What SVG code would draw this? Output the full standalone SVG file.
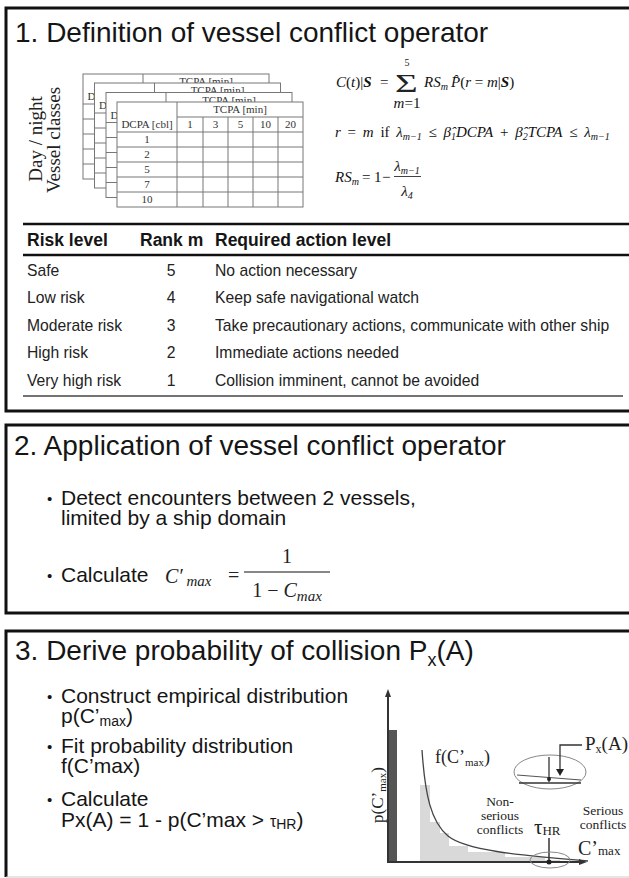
<svg xmlns="http://www.w3.org/2000/svg" width="629" height="878" viewBox="0 0 629 878">
<style>
.frame{fill:none;stroke:#111;stroke-width:3}
.title{font-family:"Liberation Sans",Arial,sans-serif;font-size:28px;fill:#151515}
.body{font-family:"Liberation Sans",Arial,sans-serif;font-size:21px;fill:#151515}
.bul{font-family:"Liberation Sans",Arial,sans-serif;font-size:15px;fill:#151515}
.th{font-family:"Liberation Sans",Arial,sans-serif;font-size:17.5px;font-weight:bold;fill:#151515}
.td{font-family:"Liberation Sans",Arial,sans-serif;font-size:15.7px;fill:#222}
.math{font-family:"Liberation Serif","Times New Roman",serif;font-style:italic;font-size:15px;fill:#111}
.up{font-style:normal}
.tt{font-family:"Liberation Serif","Times New Roman",serif;font-size:11px;fill:#333;text-anchor:middle}
.tl{stroke:#777;stroke-width:1;fill:none}
.serif{font-family:"Liberation Serif","Times New Roman",serif;fill:#222}
.rule{stroke:#111;stroke-width:2.5}
</style>
<defs>
<g id="vt">
<rect x="0" y="0" width="186" height="105" fill="#fff" stroke="#777"/>
<path class="tl" d="M60 0V105M86 15V105M111 15V105M136 15V105M161 15V105M60 15H186M0 30H186M0 45H186M0 60H186M0 75H186M0 90H186"/>
<text class="tt" x="123" y="11">TCPA [min]</text>
<text class="tt" x="30" y="26">DCPA [cbl]</text>
<text class="tt" x="73" y="26">1</text>
<text class="tt" x="98.5" y="26">3</text>
<text class="tt" x="123.5" y="26">5</text>
<text class="tt" x="148.5" y="26">10</text>
<text class="tt" x="173.5" y="26">20</text>
<text class="tt" x="30" y="41">1</text>
<text class="tt" x="30" y="56">2</text>
<text class="tt" x="30" y="71">5</text>
<text class="tt" x="30" y="86">7</text>
<text class="tt" x="30" y="101">10</text>
</g>
</defs>

<!-- Panel 1 -->
<g id="panel1">
<path class="frame" d="M640 8H6V411H640"/>
<text class="title" x="15" y="42">1. Definition of vessel conflict operator</text>
<g id="tables">
<use href="#vt" transform="translate(83,74)"/>
<use href="#vt" transform="translate(94.5,83)"/>
<use href="#vt" transform="translate(106,92.5)"/>
<use href="#vt" transform="translate(117,102)"/>
</g>
<text class="serif" font-size="19" text-anchor="middle" transform="translate(42,139) rotate(-90)">Day / night</text>
<text class="serif" font-size="19" text-anchor="middle" transform="translate(60,140) rotate(-90)">Vessel classes</text>
<g id="formulas">
<text class="math" x="336" y="87">C<tspan class="up">(</tspan>t<tspan class="up">)|</tspan><tspan font-weight="bold">S</tspan></text>
<text class="serif" font-size="15" x="380" y="87">=</text>
<text class="serif" font-size="26" transform="translate(395,92) scale(1.5,1)">Σ</text>
<text class="serif" font-size="10" text-anchor="middle" x="407" y="66">5</text>
<text class="math" font-size="10" text-anchor="middle" x="407" y="108">m<tspan class="up">=1</tspan></text>
<text class="math" x="424" y="87">RS<tspan font-size="10" dy="3">m</tspan></text>
<text class="math" x="451" y="87">P&#x302;<tspan class="up">(</tspan>r<tspan class="up"> = </tspan>m<tspan class="up">|</tspan><tspan font-weight="bold">S</tspan><tspan class="up">)</tspan></text>
<text class="math" x="335" y="137" word-spacing="3">r<tspan class="up"> = </tspan>m<tspan class="up">  if  </tspan>λ<tspan font-size="10" dy="3">m−1</tspan><tspan class="up" dy="-3"> ≤ </tspan>β&#x302;<tspan font-size="10" dy="3">1</tspan><tspan dy="-3">DCPA</tspan><tspan class="up"> + </tspan>β&#x302;<tspan font-size="10" dy="3">2</tspan><tspan dy="-3">TCPA</tspan><tspan class="up"> ≤ </tspan>λ<tspan font-size="10" dy="3">m−1</tspan></text>
<text class="math" x="335" y="182">RS<tspan font-size="10" dy="3">m</tspan><tspan class="up" dy="-3" x="362">=</tspan><tspan class="up" x="374">1</tspan><tspan class="up" x="382">−</tspan></text>
<text class="math" text-anchor="middle" x="407" y="171">λ<tspan font-size="10" dy="3">m−1</tspan></text>
<line x1="394" y1="176.5" x2="421" y2="176.5" stroke="#111" stroke-width="0.8"/>
<text class="math" text-anchor="middle" x="407" y="196">λ<tspan font-size="10" dy="3">4</tspan></text>
</g>
<g id="risktable">
<line class="rule" x1="23" y1="224" x2="629" y2="224"/>
<text class="th" x="27" y="246">Risk level</text>
<text class="th" x="140" y="246">Rank m</text>
<text class="th" x="215" y="246">Required action level</text>
<line class="rule" x1="23" y1="255" x2="629" y2="255"/>
<text class="td" x="27" y="276">Safe</text>
<text class="td" x="171" y="276" text-anchor="middle">5</text>
<text class="td" x="215" y="276">No action necessary</text>
<text class="td" x="27" y="303">Low risk</text>
<text class="td" x="171" y="303" text-anchor="middle">4</text>
<text class="td" x="215" y="303">Keep safe navigational watch</text>
<text class="td" x="27" y="331">Moderate risk</text>
<text class="td" x="171" y="331" text-anchor="middle">3</text>
<text class="td" x="215" y="331">Take precautionary actions, communicate with other ship</text>
<text class="td" x="27" y="358">High risk</text>
<text class="td" x="171" y="358" text-anchor="middle">2</text>
<text class="td" x="215" y="358">Immediate actions needed</text>
<text class="td" x="27" y="386">Very high risk</text>
<text class="td" x="171" y="386" text-anchor="middle">1</text>
<text class="td" x="215" y="386">Collision imminent, cannot be avoided</text>
<line x1="23" y1="396" x2="623" y2="396" stroke="#444" stroke-width="1.5"/>
</g>
</g>

<!-- Panel 2 -->
<g id="panel2">
<path class="frame" d="M640 425H6V613H640"/>
<text class="title" x="14" y="455">2. Application of vessel conflict operator</text>
<text class="bul" x="47" y="504">•</text>
<text class="body" x="61" y="505">Detect encounters between 2 vessels,</text>
<text class="body" x="61" y="525">limited by a ship domain</text>
<text class="bul" x="47" y="581">•</text>
<text class="body" x="61" y="582">Calculate</text>
<text class="serif" font-size="20" font-style="italic" x="165" y="583">C′<tspan font-size="15" dy="3"> max</tspan></text>
<text class="serif" font-size="20" x="228" y="582">=</text>
<text class="serif" font-size="20" text-anchor="middle" x="287" y="563">1</text>
<line x1="244" y1="572" x2="330" y2="572" stroke="#111" stroke-width="1"/>
<text class="serif" font-size="20" text-anchor="middle" x="287" y="597">1 − <tspan font-style="italic">C<tspan font-size="15" dy="4">max</tspan></tspan></text>
</g>

<!-- Panel 3 -->
<g id="panel3">
<path class="frame" d="M640 631H6V877"/>
<line x1="6" y1="877" x2="629" y2="877" stroke="#ccc" stroke-width="1"/>
<text class="title" x="15" y="660">3. Derive probability of collision P<tspan font-size="18" dy="6">x</tspan><tspan dy="-6">(A)</tspan></text>
<text class="bul" x="47" y="702">•</text>
<text class="body" x="61" y="703">Construct empirical distribution</text>
<text class="body" x="61" y="723">p(C’<tspan font-size="14" dy="3">max</tspan><tspan dy="-3">)</tspan></text>
<text class="bul" x="47" y="752">•</text>
<text class="body" x="61" y="753">Fit probability distribution</text>
<text class="body" x="61" y="773">f(C’max)</text>
<text class="bul" x="47" y="805">•</text>
<text class="body" x="61" y="806">Calculate</text>
<text class="body" x="61" y="827">Px(A) = 1 - p(C’max &gt; <tspan font-size="16">τ</tspan><tspan font-size="14" dy="2">HR</tspan><tspan dy="-2">)</tspan></text>

<g id="chart">
<rect x="388" y="730" width="9" height="132" fill="#555"/>
<path fill="#d9d9d9" d="M420 862V785H430V822H440V833H449V846H468V852H505V857H545V860H560V862Z"/>
<path fill="none" stroke="#444" stroke-width="1.3" d="M422 750C425 795 431 822 448 836S515 855 588 861"/>
<path d="M388 695V862H582" stroke="#333" stroke-width="2" fill="none"/>
<path d="M388 689l-3 8h6z" fill="#333"/>
<path d="M587 862l-8-3v6z" fill="#333"/>
<text class="serif" font-size="17" text-anchor="middle" transform="translate(383,795) rotate(-90)">p(C’<tspan font-size="11" dy="3">max</tspan><tspan dy="-3">)</tspan></text>
<text class="serif" font-size="18" x="435" y="763">f(C’<tspan font-size="11" dy="3">max</tspan><tspan dy="-3">)</tspan></text>
<text class="serif" font-size="13.5" text-anchor="middle" x="500" y="806">Non-</text>
<text class="serif" font-size="13.5" text-anchor="middle" x="500" y="820">serious</text>
<text class="serif" font-size="13.5" text-anchor="middle" x="500" y="834">conflicts</text>
<text class="serif" font-size="13.5" text-anchor="middle" x="603" y="815">Serious</text>
<text class="serif" font-size="13.5" text-anchor="middle" x="603" y="829">conflicts</text>
<text class="serif" x="534" y="834"><tspan font-size="21">τ</tspan><tspan font-size="13" dy="1">HR</tspan></text>
<text class="serif" font-size="20" x="578" y="855">C’<tspan font-size="13">max</tspan></text>
<line x1="549" y1="838" x2="549" y2="862" stroke="#333" stroke-width="1.5"/>
<circle cx="549" cy="862" r="2.5" fill="#222"/>
<ellipse cx="550" cy="860" rx="20" ry="8" fill="none" stroke="#888"/>
<ellipse cx="550" cy="772" rx="36" ry="17" fill="none" stroke="#888"/>
<path d="M517 775L581 780" stroke="#555" stroke-width="1.2" fill="none"/>
<path d="M519 783H581" stroke="#333" stroke-width="1.5" fill="none"/>
<path d="M549 757V782" stroke="#333" stroke-width="1.3" fill="none"/>
<circle cx="549" cy="779" r="2" fill="#222"/>
<path d="M582 745H560V769" stroke="#333" stroke-width="1.3" fill="none"/>
<path d="M560 776l-4-7h8z" fill="#222"/>
<text class="serif" font-size="19" x="585" y="750">P<tspan font-size="12" dy="3">x</tspan><tspan dy="-3">(A)</tspan></text>
</g>
</g>
</svg>
